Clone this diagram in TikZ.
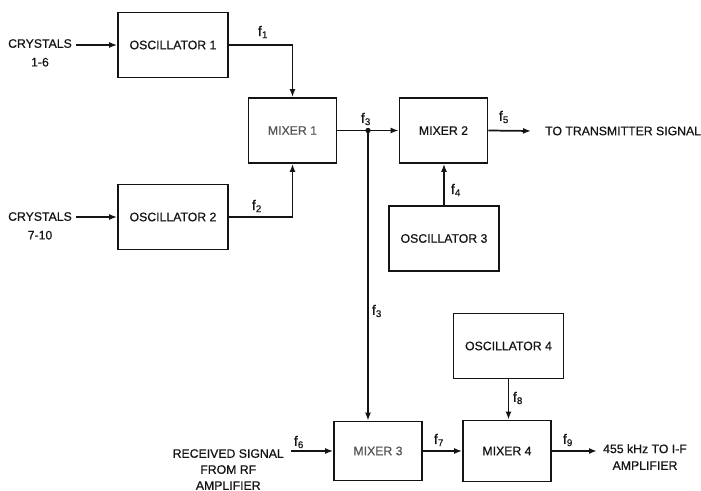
\documentclass[tikz,border=0pt]{standalone}
\usepackage{fontspec}
\setmainfont{Liberation Sans}[FakeBold=0.6]
\usetikzlibrary{arrows.meta}
\definecolor{inkblack}{RGB}{20, 20, 20}
\definecolor{fadegray}{RGB}{85, 85, 85}

\begin{document}
\begin{tikzpicture}[x=0.75pt, y=-0.75pt, line width=1.3pt, draw=inkblack,
    blk/.style={draw, inner sep=0pt, text=inkblack,
      font=\fontsize{9.2}{11}\selectfont},
    osc/.style={blk, minimum width=82.5pt, minimum height=48.75pt},
    mix/.style={blk, minimum width=66pt, minimum height=48.75pt},
    sig/.style={-{Latex[length=6pt,width=4.5pt]}},
    lbl/.style={text=inkblack, align=center, inner sep=1pt,
      font=\fontsize{9.2}{14}\selectfont},
    flbl/.style={text=inkblack, inner sep=0pt,
      font=\fontsize{10.5}{11}\selectfont}]
  \useasboundingbox (0,0) rectangle (701,491);

  %% blocks
  \node[osc] (osc1) at (173,45) {OSCILLATOR 1};
  \node[mix, text=fadegray] (mix1) at (292.5,130.5) {MIXER 1};
  \node[osc] (osc2) at (173,217) {OSCILLATOR 2};
  \node[mix] (mix2) at (443.5,130.5) {MIXER 2};
  \node[osc] (osc3) at (444,238.5) {OSCILLATOR 3};
  \node[osc] (osc4) at (508.5,346) {OSCILLATOR 4};
  \node[mix, text=fadegray, minimum height=44.25pt] (mix3) at (378,451) {MIXER 3};
  \node[mix, minimum height=45.75pt] (mix4) at (507,451) {MIXER 4};

  %% inputs and outputs
  \node[lbl, anchor=north east] (crys1) at (74,37) {CRYSTALS\\1-6};
  \node[lbl, anchor=north east] (crys2) at (74,210) {CRYSTALS\\7-10};
  \node[lbl, anchor=west] (xmit) at (543,131) {TO TRANSMITTER SIGNAL};
  \node[lbl, anchor=north east, font=\fontsize{9.2}{12}\selectfont]
    (rcv) at (286,447) {RECEIVED SIGNAL\\FROM RF\\AMPLIFIER};
  \node[lbl, anchor=north west, font=\fontsize{9.2}{12.5}\selectfont]
    (ifout) at (601,442) {455 kHz TO I-F\\AMPLIFIER};

  \coordinate (jn) at (368,130.5);

  %% signal paths
  \draw[sig] ([xshift=1.5pt]crys1.north east |- osc1.west) -- (osc1.west);
  \draw[sig] ([xshift=1.5pt]crys2.north east |- osc2.west) -- (osc2.west);
  \draw[sig] (osc1.east) -| (mix1.north);
  \draw[sig] (osc2.east) -| (mix1.south);
  \draw (mix1.east) -- (jn);
  \fill[inkblack] (jn) circle (2pt);
  \draw[sig] (jn) -- (mix2.west);
  \draw[sig] (jn) -- (jn |- mix3.north);
  \draw[sig] (mix2.east) -- ([xshift=-9pt]xmit.west);
  \draw[sig] (osc3.north) -- (osc3.north |- mix2.south);
  \draw[sig] ([xshift=4pt]rcv.north east |- mix3.west) -- (mix3.west);
  \draw[sig] (mix3.east) -- (mix4.west);
  \draw[sig] (osc4.south) -- (osc4.south |- mix4.north);
  \draw[sig] (mix4.east) -- ([xshift=-3pt]ifout.north west |- mix4.east);

  %% frequency labels
  \node[flbl] (f1) at (263,32) {f\textsubscript{1}};
  \node[flbl] (f2) at (257,206) {f\textsubscript{2}};
  \node[flbl] (f3a) at (366,119) {f\textsubscript{3}};
  \node[flbl] (f3b) at (377,311) {f\textsubscript{3}};
  \node[flbl] (f4) at (456,190) {f\textsubscript{4}};
  \node[flbl] (f5) at (504,117) {f\textsubscript{5}};
  \node[flbl] (f6) at (299,442) {f\textsubscript{6}};
  \node[flbl] (f7) at (439,440) {f\textsubscript{7}};
  \node[flbl] (f8) at (518,398) {f\textsubscript{8}};
  \node[flbl] (f9) at (568,440) {f\textsubscript{9}};
\end{tikzpicture}
\end{document}
